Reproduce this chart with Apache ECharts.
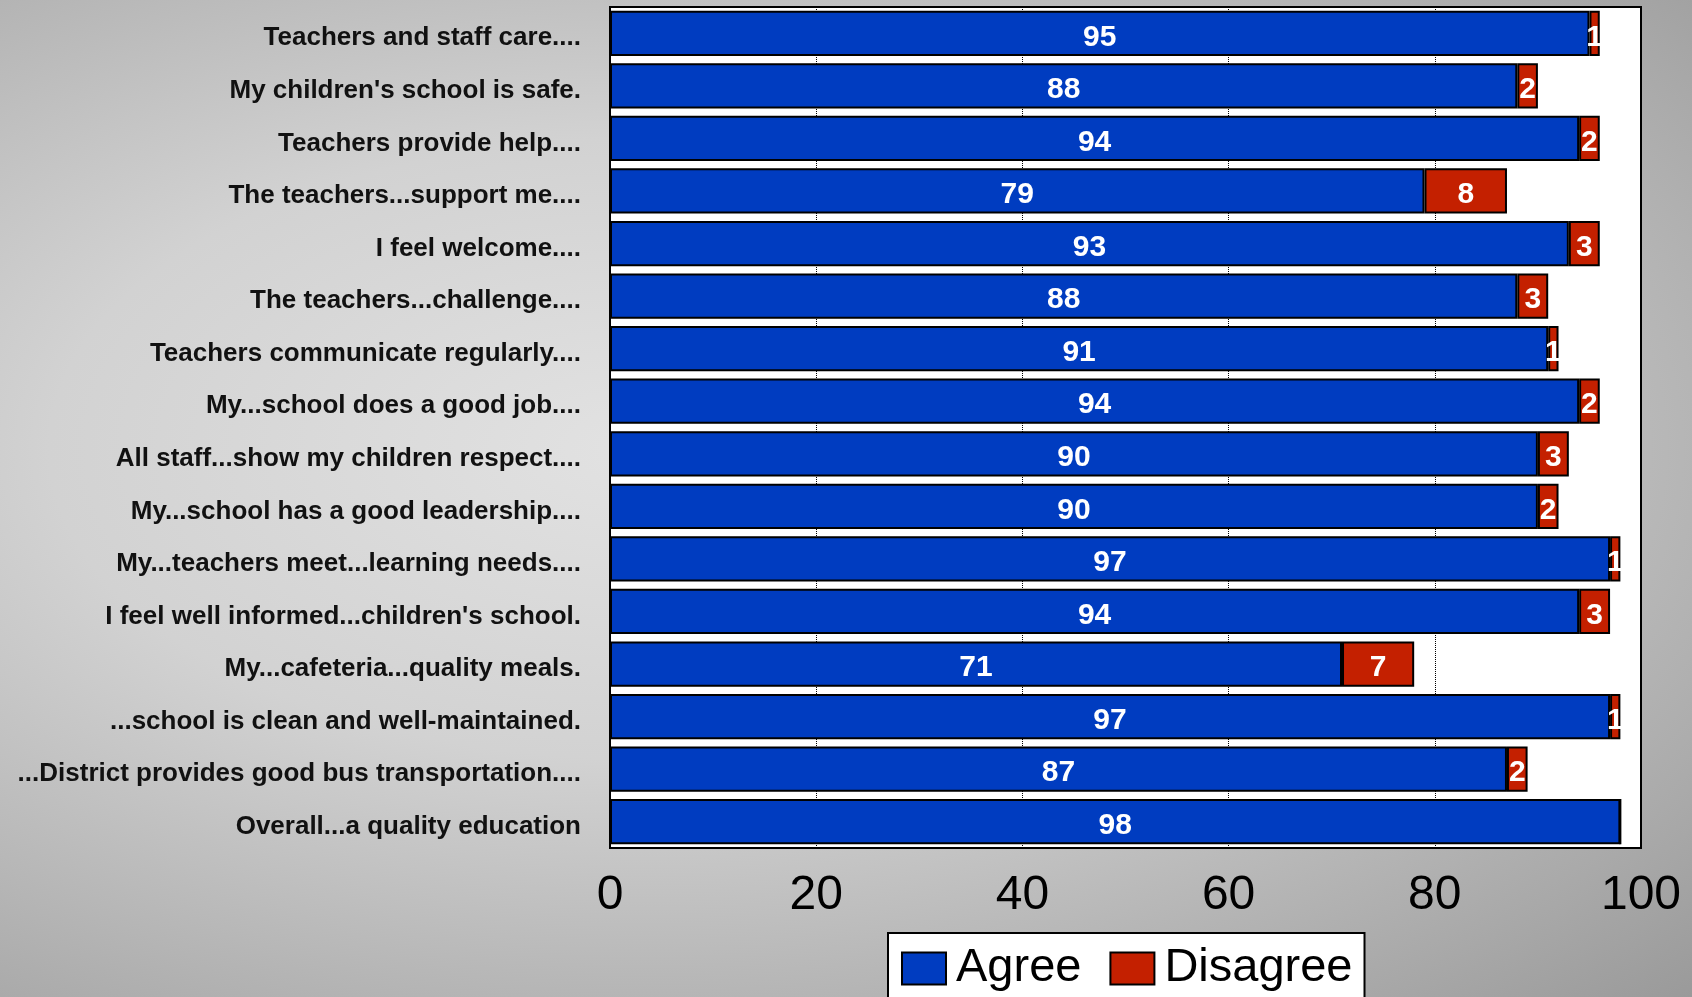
<!DOCTYPE html>
<html lang="en">
<head>
    <meta charset="UTF-8">
    <title>Survey</title>
    <script src="https://cdn.jsdelivr.net/npm/echarts@6/dist/echarts.min.js"></script>
    <style>
        * { margin: 0; padding: 0; }
        body {
            width: 1692px;
            height: 997px;
            overflow: hidden;
            background: radial-gradient(ellipse at 38% 45%, #e2e2e2 0%, #d2d2d2 40%, #a8a8a8 85%, #9a9a9a 100%);
        }
        #box1 { width: 1692px; height: 997px; }
    </style>
</head>
<body>
    <div id="box1"></div>
    <script>
        // categories top to bottom
        var questions = [
            'Teachers and staff care....',
            "My children's school is safe.",
            'Teachers provide help....',
            'The teachers...support me....',
            'I feel welcome....',
            'The teachers...challenge....',
            'Teachers communicate regularly....',
            'My...school does a good job....',
            'All staff...show my children respect....',
            'My...school has a good leadership....',
            'My...teachers meet...learning needs....',
            "I feel well informed...children's school.",
            'My...cafeteria...quality meals.',
            '...school is clean and well-maintained.',
            '...District provides good bus transportation....',
            'Overall...a quality education'
        ];
        var agree = [95, 88, 94, 79, 93, 88, 91, 94, 90, 90, 97, 94, 71, 97, 87, 98];
        var disagree = [1, 2, 2, 8, 3, 3, 1, 2, 3, 2, 1, 3, 7, 1, 2, 0];
        var xTicks = [0, 20, 40, 60, 80, 100];

        var font = '"Liberation Sans", Arial, sans-serif';
        var labelStyle = {
            show: true,
            position: 'inside',
            offset: [0, 4],
            color: '#fff',
            fontWeight: 'bold',
            fontSize: 30,
            fontFamily: font,
            formatter: function (p) { return p.value ? p.value : ''; }
        };

        var option = {
            animation: false,
            grid: {
                left: 610,
                right: 51,
                top: 7,
                bottom: 149,
                show: true,
                backgroundColor: '#fff',
                borderColor: '#000',
                borderWidth: 2
            },
            legend: {
                top: 933,
                left: 888,
                data: ['Agree', 'Disagree'],
                icon: 'rect',
                backgroundColor: '#fff',
                borderColor: '#000',
                borderWidth: 2,
                padding: [12, 12, 20, 13],
                itemWidth: 44,
                itemHeight: 32,
                itemGap: 28,
                itemStyle: { borderColor: '#000', borderWidth: 2 },
                textStyle: { fontSize: 47, fontFamily: font, color: '#000', padding: [0, 0, 0, 5] }
            },
            xAxis: {
                type: 'value',
                min: 0,
                max: 100,
                interval: 20,
                axisLine: { show: false },
                axisTick: { show: false },
                splitLine: { show: true, lineStyle: { color: '#000', type: 'dotted', width: 1 } },
                axisLabel: {
                    margin: 24,
                    fontSize: 48,
                    fontFamily: font,
                    color: '#000',
                    formatter: function (v) { return xTicks.indexOf(v) >= 0 ? String(v) : ''; }
                }
            },
            yAxis: {
                type: 'category',
                inverse: true,
                data: questions,
                axisLine: { show: false },
                axisTick: { show: false },
                axisLabel: {
                    margin: 29,
                    formatter: function (v) { return '{q|' + v + '}'; },
                    rich: {
                        q: {
                            padding: [10, 0, 0, 0],
                            fontSize: 26,
                            fontWeight: 'bold',
                            fontFamily: font,
                            color: '#111'
                        }
                    }
                }
            },
            series: [
                {
                    name: 'Agree',
                    type: 'bar',
                    stack: 'total',
                    barCategoryGap: '14%',
                    data: agree,
                    itemStyle: { color: '#003cc0', borderColor: '#000', borderWidth: 2 },
                    label: labelStyle
                },
                {
                    name: 'Disagree',
                    type: 'bar',
                    stack: 'total',
                    data: disagree,
                    itemStyle: { color: '#c42000', borderColor: '#000', borderWidth: 2 },
                    label: labelStyle
                }
            ]
        };
        echarts.init(document.querySelector('#box1')).setOption(option);
    </script>
</body>
</html>
